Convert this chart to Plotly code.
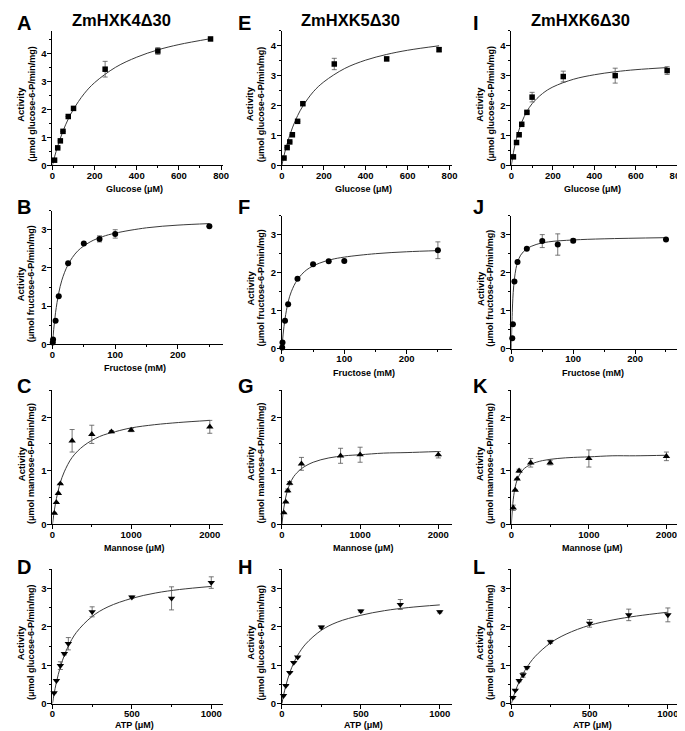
import plotly.graph_objects as go

W, H = 685, 731

# ---------------- data ----------------
# Row 1: glucose (uM)
glc_conc = [10, 25, 37.5, 50, 75, 100, 250, 500, 750]
hxk4_glc = [0.18, 0.62, 0.87, 1.21, 1.74, 2.03, 3.43, 4.08, 4.51]
hxk4_glc_err = [0, 0, 0, 0, 0, 0, 0.28, 0.12, 0.03]
hxk5_glc = [0.24, 0.59, 0.78, 1.02, 1.47, 2.06, 3.39, 3.56, 3.87]
hxk5_glc_err = [0, 0, 0, 0, 0, 0.05, 0.19, 0.06, 0.07]
hxk6_glc = [0.28, 0.76, 1.02, 1.37, 1.77, 2.28, 2.97, 3.00, 3.17]
hxk6_glc_err = [0, 0, 0, 0, 0.04, 0.16, 0.18, 0.25, 0.13]

glc_fit_x = [0, 10, 25, 50, 75, 100, 150, 200, 300, 400, 500, 600, 750]
hxk4_glc_fit = [0, 0.30, 0.68, 1.22, 1.65, 2.00, 2.55, 2.95, 3.50, 3.86, 4.12, 4.31, 4.52]
hxk5_glc_fit = [0, 0.32, 0.72, 1.25, 1.66, 1.98, 2.46, 2.79, 3.24, 3.52, 3.71, 3.85, 4.00]
hxk6_glc_fit = [0, 0.42, 0.90, 1.44, 1.80, 2.06, 2.40, 2.62, 2.88, 3.03, 3.13, 3.20, 3.27]

# Row 2: fructose (mM)
hxk4_fru_conc = [0.5, 1, 5, 10, 25, 50, 75, 100, 250]
hxk4_fru = [0.05, 0.13, 0.62, 1.26, 2.12, 2.64, 2.76, 2.89, 3.09]
hxk4_fru_err = [0, 0, 0, 0, 0, 0, 0.08, 0.11, 0]
hxk5_fru_conc = [0.5, 1, 5, 10, 25, 50, 75, 100, 250]
hxk5_fru = [0.04, 0.17, 0.74, 1.17, 1.84, 2.22, 2.30, 2.31, 2.59]
hxk5_fru_err = [0, 0, 0, 0, 0, 0, 0, 0, 0.22]
hxk6_fru_conc = [1.5, 2.5, 5, 10, 25, 50, 75, 100, 250]
hxk6_fru = [0.28, 0.65, 1.77, 2.28, 2.63, 2.83, 2.74, 2.84, 2.87]
hxk6_fru_err = [0, 0, 0, 0, 0, 0.17, 0.28, 0.05, 0]

fru_fit_x = [0, 2, 5, 10, 15, 25, 40, 60, 80, 100, 150, 200, 250]
hxk4_fru_fit = [0, 0.39, 0.84, 1.34, 1.68, 2.09, 2.44, 2.68, 2.82, 2.91, 3.05, 3.12, 3.16]
hxk5_fru_fit = [0, 0.39, 0.79, 1.23, 1.50, 1.82, 2.08, 2.25, 2.35, 2.41, 2.50, 2.55, 2.58]
hxk6_fru_fit_x = [0, 0.5, 1, 2, 3, 5, 7.5, 10, 15, 25, 40, 60, 100, 150, 250]
hxk6_fru_fit = [0, 0.42, 0.74, 1.18, 1.48, 1.84, 2.11, 2.27, 2.46, 2.63, 2.74, 2.81, 2.86, 2.89, 2.92]

# Row 3: mannose (uM)
hxk4_man_conc = [25, 50, 75, 100, 250, 500, 750, 1000, 2000]
hxk4_man = [0.21, 0.41, 0.58, 0.76, 1.56, 1.68, 1.73, 1.76, 1.82]
hxk4_man_err = [0, 0, 0, 0, 0.21, 0.17, 0.02, 0.03, 0.12]
hxk5_man_conc = [25, 50, 75, 100, 250, 750, 1000, 2000]
hxk5_man = [0.22, 0.42, 0.63, 0.77, 1.13, 1.28, 1.30, 1.30]
hxk5_man_err = [0, 0, 0.03, 0.03, 0.12, 0.14, 0.14, 0.06]
hxk6_man_conc = [25, 50, 75, 100, 250, 500, 1000, 2000]
hxk6_man = [0.31, 0.64, 0.85, 1.00, 1.15, 1.15, 1.23, 1.27]
hxk6_man_err = [0.05, 0, 0, 0.03, 0.08, 0.04, 0.16, 0.08]

man_fit_x = [0, 25, 50, 75, 100, 150, 250, 400, 600, 800, 1000, 1300, 1600, 2000]
hxk4_man_fit = [0, 0.27, 0.48, 0.64, 0.78, 0.98, 1.25, 1.47, 1.64, 1.73, 1.80, 1.86, 1.90, 1.94]
hxk5_man_fit = [0, 0.31, 0.51, 0.65, 0.75, 0.89, 1.04, 1.16, 1.24, 1.28, 1.30, 1.33, 1.34, 1.36]
hxk6_man_fit = [0, 0.47, 0.70, 0.83, 0.91, 1.02, 1.12, 1.19, 1.23, 1.25, 1.26, 1.28, 1.28, 1.29]

# Row 4: ATP (uM)
atp_conc = [10, 25, 50, 75, 100, 250, 500, 750, 1000]
hxk4_atp = [0.28, 0.60, 0.99, 1.30, 1.56, 2.39, 2.77, 2.74, 3.15]
hxk4_atp_err = [0, 0, 0.10, 0.03, 0.16, 0.13, 0.03, 0.30, 0.15]
hxk5_atp = [0.21, 0.47, 0.81, 1.07, 1.21, 1.99, 2.41, 2.58, 2.39]
hxk5_atp_err = [0, 0, 0, 0, 0, 0.03, 0.03, 0.13, 0.03]
hxk6_atp = [0.16, 0.35, 0.60, 0.75, 0.94, 1.61, 2.09, 2.31, 2.31]
hxk6_atp_err = [0.03, 0, 0.03, 0.06, 0.03, 0.04, 0.10, 0.15, 0.18]

atp_fit_x = [0, 10, 25, 50, 75, 100, 150, 250, 350, 500, 650, 800, 1000]
hxk4_atp_fit = [0, 0.25, 0.56, 0.96, 1.26, 1.50, 1.85, 2.27, 2.52, 2.74, 2.88, 2.97, 3.05]
hxk5_atp_fit = [0, 0.21, 0.47, 0.81, 1.06, 1.26, 1.55, 1.91, 2.12, 2.30, 2.42, 2.50, 2.57]
hxk6_atp_fit = [0, 0.14, 0.32, 0.57, 0.78, 0.95, 1.22, 1.58, 1.81, 2.04, 2.18, 2.28, 2.38]

col_titles = ["ZmHXK4\u039430", "ZmHXK5\u039430", "ZmHXK6\u039430"]
row_xtitles = ["Glucose (\u03bcM)", "Fructose (mM)", "Mannose (\u03bcM)", "ATP (\u03bcM)"]
row_ytitles = ["(\u03bcmol glucose-6-P/min/mg)", "(\u03bcmol fructose-6-P/min/mg)",
               "(\u03bcmol mannose-6-P/min/mg)", "(\u03bcmol glucose-6-P/min/mg)"]
letters = [["A", "E", "I"], ["B", "F", "J"], ["C", "G", "K"], ["D", "H", "L"]]

# ---------------- layout geometry ----------------
col_px = [(42, 215), (274.5, 446.5), (507, 677.5)]
row_px = [
    [(23, 158.3), (23, 158.3), (23, 158.3)],
    [(204, 338.7), (209, 343.3), (209, 343.3)],
    [(385, 520), (385, 520), (385, 520)],
    [(565, 700.5), (565, 700.5), (565, 700.5)],
]
xtitle_off = [24, 24, 23.5, 21.5]
xmax = [810, 272, 2170, 1075]
xdt = [200, 100, 1000, 500]
ymax = [[4.8, 4.5, 4.5], [3.5, 3.5, 3.5], [2.5, 2.5, 2.5], [3.5, 3.5, 3.5]]
symbols = ["square", "circle", "triangle-up", "triangle-down"]
msizes = [5.5, 6, 6.5, 6.5]

panels = [
    [(glc_conc, hxk4_glc, hxk4_glc_err, glc_fit_x, hxk4_glc_fit),
     (glc_conc, hxk5_glc, hxk5_glc_err, glc_fit_x, hxk5_glc_fit),
     (glc_conc, hxk6_glc, hxk6_glc_err, glc_fit_x, hxk6_glc_fit)],
    [(hxk4_fru_conc, hxk4_fru, hxk4_fru_err, fru_fit_x, hxk4_fru_fit),
     (hxk5_fru_conc, hxk5_fru, hxk5_fru_err, fru_fit_x, hxk5_fru_fit),
     (hxk6_fru_conc, hxk6_fru, hxk6_fru_err, hxk6_fru_fit_x, hxk6_fru_fit)],
    [(hxk4_man_conc, hxk4_man, hxk4_man_err, man_fit_x, hxk4_man_fit),
     (hxk5_man_conc, hxk5_man, hxk5_man_err, man_fit_x, hxk5_man_fit),
     (hxk6_man_conc, hxk6_man, hxk6_man_err, man_fit_x, hxk6_man_fit)],
    [(atp_conc, hxk4_atp, hxk4_atp_err, atp_fit_x, hxk4_atp_fit),
     (atp_conc, hxk5_atp, hxk5_atp_err, atp_fit_x, hxk5_atp_fit),
     (atp_conc, hxk6_atp, hxk6_atp_err, atp_fit_x, hxk6_atp_fit)],
]

FONT = "Liberation Sans, Arial, sans-serif"
fig = go.Figure()
layout = dict(width=W, height=H, margin=dict(l=0, r=0, t=0, b=0),
              paper_bgcolor="white", plot_bgcolor="white", showlegend=False,
              font=dict(family=FONT, color="black"))
annotations = []

def ann(text, x, y, size, angle=0, xanchor="center", yanchor="middle"):
    annotations.append(dict(text=text, x=x / W, y=1 - y / H, xref="paper", yref="paper",
                            showarrow=False, textangle=angle, xanchor=xanchor, yanchor=yanchor,
                            font=dict(family=FONT, size=size, color="black", weight="bold")))

idx = 0
for r in range(4):
    for c in range(3):
        idx += 1
        sfx = "" if idx == 1 else str(idx)
        xs, ys, es, fx, fy = panels[r][c]
        x0, x1 = col_px[c]
        t0, t1 = row_px[r][c]
        fig.add_trace(go.Scatter(x=fx, y=fy, mode="lines", line=dict(color="#3a3a3a", width=1, shape="spline"),
                                 xaxis="x" + sfx, yaxis="y" + sfx, hoverinfo="skip", cliponaxis=False))
        fig.add_trace(go.Scatter(x=xs, y=ys, mode="markers",
                                 marker=dict(symbol=symbols[r], size=msizes[r], color="black"),
                                 error_y=dict(type="data", array=es, visible=True, color="#555555",
                                              thickness=0.8, width=2.5),
                                 xaxis="x" + sfx, yaxis="y" + sfx, cliponaxis=False))
        common = dict(showline=True, linecolor="black", linewidth=1, ticks="outside", ticklen=4,
                      tickwidth=1, tickcolor="black", showgrid=False, zeroline=False, mirror=False,
                      tickfont=dict(family=FONT, size=9.5, color="black", weight="bold"),
                      fixedrange=True, tick0=0)
        layout["xaxis" + sfx] = dict(common, domain=[x0 / W, x1 / W], range=[0, xmax[r]],
                                     anchor="y" + sfx, dtick=xdt[r], ticklabelstandoff=-3,
                                     minor=dict(dtick=xdt[r] / 2, ticklen=2, ticks="outside",
                                                tickcolor="black", tickwidth=1, showgrid=False))
        layout["yaxis" + sfx] = dict(common, domain=[1 - t1 / H, 1 - t0 / H], range=[0, ymax[r][c]],
                                     anchor="x" + sfx, dtick=1, ticklabelstandoff=-1,
                                     minor=dict(dtick=0.5, ticklen=2, ticks="outside",
                                                tickcolor="black", tickwidth=1, showgrid=False))
        # axis titles
        cx = (x0 + x1) / 2
        cy = (t0 + t1) / 2 + 6
        ann(row_xtitles[r], cx - 3, t1 + xtitle_off[r], 9)
        ann("Activity", x0 - 32, cy, 9.5, angle=-90)
        ann(row_ytitles[r], x0 - 21, cy, 9, angle=-90)
        # panel letter
        lx = [4, 228, 466][c]
        ly = [15.5, 200, 381, 562.5][r]
        ann(letters[r][c], lx, ly, 20, xanchor="left")

for c, t in enumerate(col_titles):
    ann(t, [111.5, 344, 577][c], 12, 16.5)

layout["annotations"] = annotations
fig.update_layout(**layout)
fig.write_html("out.html")
